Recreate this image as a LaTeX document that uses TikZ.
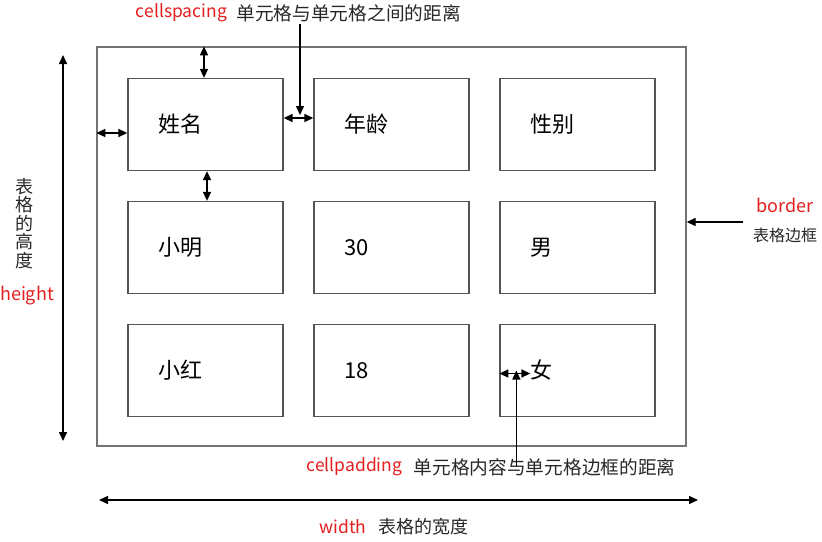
\documentclass[tikz,border=0pt]{standalone}
\usepackage{fontspec}
\newfontfamily\cjk{Noto Sans CJK SC}
\usetikzlibrary{positioning,arrows.meta,calc}
\definecolor{tblgray}{RGB}{115,115,115}
\definecolor{cellgray}{RGB}{85,85,85}
\definecolor{notered}{RGB}{228,30,30}
\definecolor{notetext}{RGB}{40,40,40}
\tikzset{
  cell/.style={draw=cellgray,line width=1.3pt,minimum height=92pt,text width=95pt,inner xsep=30pt,align=left,font=\cjk\fontsize{22}{24}\selectfont},
  dim/.style={line width=1.5pt,{Triangle[length=9pt,width=8pt]}-{Triangle[length=9pt,width=8pt]}},
  pointer/.style={line width=1.3pt,-{Triangle[length=9pt,width=8pt]}},
  keyword/.style={text=notered,font=\cjk\fontsize{17.5}{20}\selectfont,inner sep=0pt},
  note/.style={text=notetext,font=\cjk\fontsize{18.7}{20}\selectfont,inner sep=0pt},
}
\begin{document}
\begin{tikzpicture}[x=1pt,y=-1pt]
\useasboundingbox[fill=white] (0,0) rectangle (822,541);
% the table and its cells
\node[draw=tblgray,line width=1.3pt,minimum width=589pt,minimum height=399pt] (tbl) at (391.5,246.5) {};
\node[cell] (c11) at (205.5,124.5) {姓名};
\node[cell,right=29.7pt of c11] (c12) {年龄};
\node[cell,right=29.7pt of c12] (c13) {性别};
\node[cell,below=29.7pt of c11] (c21) {小明};
\node[cell,right=29.7pt of c21] (c22) {30};
\node[cell,right=29.7pt of c22] (c23) {男};
\node[cell,below=29.7pt of c21] (c31) {小红};
\node[cell,right=29.7pt of c31] (c32) {18};
\node[cell,right=29.7pt of c32] (c33) {女};
% cellspacing
\draw[dim] ([xshift=-1.5pt]c11.north) -- ([xshift=-1.5pt]c11.north |- tbl.north);
\draw[dim] ([yshift=-8.5pt]c11.west) -- ([yshift=-8.5pt]c11.west -| tbl.west);
\draw[dim] ([yshift=6.5pt]c11.east) coordinate (sl) -- ([yshift=6.5pt]c12.west) coordinate (sr);
\draw[dim] ([xshift=1.5pt]c11.south) -- ([xshift=1.5pt]c11.south |- c21.north);
\node[keyword] (spckey) at (181.5,13) {cellspacing};
\node[note,right=9pt of spckey] (spcnote) {单元格与单元格之间的距离};
\coordinate (spctip) at ($(sl)!0.5!(sr)+(1.5,-3)$);
\draw[pointer] (spctip |- spcnote.south) ++(0,2) -- (spctip);
% cellpadding
\draw[dim] ([yshift=-3pt]c33.west) coordinate (pl) -- ([xshift=31pt,yshift=-3pt]c33.west);
\node[keyword] (padkey) at (354.5,467) {cellpadding};
\node[note,right=11pt of padkey] (padnote) {单元格内容与单元格边框的距离};
\coordinate (padtip) at ([xshift=17pt,yshift=3pt]pl);
\draw[pointer] (padtip |- padnote.north) ++(0,8) -- (padtip);
% border
\node[keyword,font=\cjk\fontsize{18}{20}\selectfont] (brdkey) at (785,205) {border};
\node[note,font=\cjk\fontsize{16}{18}\selectfont] (brdnote) at (785,235) {表格边框};
\coordinate (brdtail) at (743,222);
\draw[pointer] (brdtail) -- (brdtail -| tbl.east);
% height
\coordinate (htop) at (63,55);
\coordinate (hbot) at (63,441);
\draw[dim] (htop) -- (hbot);
\node[note,align=center,font=\cjk\fontsize{18}{18.6}\selectfont] (hnote) at (24,223.5) {表\\格\\的\\高\\度};
\node[keyword,font=\cjk\fontsize{18}{20}\selectfont] (hkey) at (27,296) {height};
% width
\coordinate (wleft) at (99,500);
\coordinate (wright) at (698,500);
\draw[dim] (wleft) -- (wright);
\node[keyword] (wkey) at (343,527) {width};
\node[note,font=\cjk\fontsize{18}{20}\selectfont,right=12pt of wkey] (wnote) {表格的宽度};
\end{tikzpicture}
\end{document}
